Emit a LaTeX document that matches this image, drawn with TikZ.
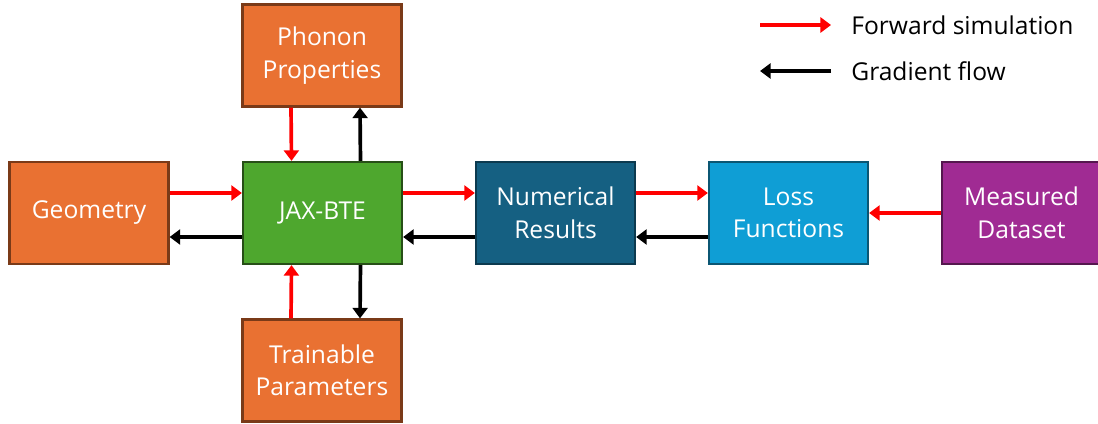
\documentclass[tikz,border=0pt]{standalone}
\usepackage{fontspec}
\setmainfont{Open Sans}
\usetikzlibrary{arrows.meta}
\definecolor{orng}{HTML}{E97132}
\definecolor{orngdk}{HTML}{7A3A18}
\definecolor{grn}{HTML}{4EA72E}
\definecolor{grndk}{HTML}{274F17}
\definecolor{navy}{HTML}{156082}
\definecolor{navydk}{HTML}{0C3A4F}
\definecolor{cyn}{HTML}{0F9ED5}
\definecolor{cyndk}{HTML}{0B5673}
\definecolor{purp}{HTML}{A02B93}
\definecolor{purpdk}{HTML}{55174E}
\tikzset{
  block/.style={draw=#1, line width=1.3pt, minimum width=3.18cm, minimum height=2.04cm,
    inner sep=0pt, align=center, text=white, font=\fontsize{14}{18.5}\selectfont},
  fwd/.style={red, line width=2.1pt, -{Triangle[length=6pt,width=8.5pt]}},
  grad/.style={black, line width=2.1pt, -{Triangle[length=6pt,width=8.5pt]}}
}
\begin{document}
\begin{tikzpicture}[x=0.02cm,y=0.02cm]
\useasboundingbox (0,0) rectangle (1098,423);
% blocks
\node[block=orngdk, fill=orng] (geo) at (89,210) {Geometry};
\node[block=grndk, fill=grn] (jax) at (322.5,210) {JAX-BTE};
\node[block=orngdk, fill=orng] (phon) at (322,367.5) {Phonon\\Properties};
\node[block=orngdk, fill=orng] (train) at (322,52.5) {Trainable\\Parameters};
\node[block=navydk, fill=navy] (num) at (555.5,210) {Numerical\\Results};
\node[block=cyndk, fill=cyn] (loss) at (788.5,210) {Loss\\Functions};
\node[block=purpdk, fill=purp] (meas) at (1021.5,210) {Measured\\Dataset};
% forward / gradient pairs
\foreach \a/\b in {geo/jax, jax/num, num/loss} {
  \draw[fwd] ([yshift=0.4cm]\a.east) -- ([yshift=0.4cm]\b.west);
  \draw[grad] ([yshift=-0.48cm]\b.west) -- ([yshift=-0.48cm]\a.east);
}
\draw[fwd] ([xshift=-0.62cm]phon.south) -- ([xshift=-0.62cm]jax.north);
\draw[grad] ([xshift=0.76cm]jax.north) -- ([xshift=0.76cm]phon.south);
\draw[fwd] ([xshift=-0.62cm]train.north) -- ([xshift=-0.62cm]jax.south);
\draw[grad] ([xshift=0.76cm]jax.south) -- ([xshift=0.76cm]train.north);
\draw[fwd] (meas.west) -- (loss.east);
% legend
\coordinate (fa) at (760,398); \coordinate (fb) at (831,398);
\coordinate (ga) at (831,352); \coordinate (gb) at (760,352);
\draw[fwd] (fa) -- (fb);
\draw[grad] (ga) -- (gb);
\node[anchor=west, inner sep=0pt, font=\fontsize{14}{18}\selectfont] (fwdtxt) at (851,398) {Forward simulation};
\node[anchor=west, inner sep=0pt, font=\fontsize{14}{18}\selectfont] (gradtxt) at (851,352) {Gradient flow};
\end{tikzpicture}
\end{document}
